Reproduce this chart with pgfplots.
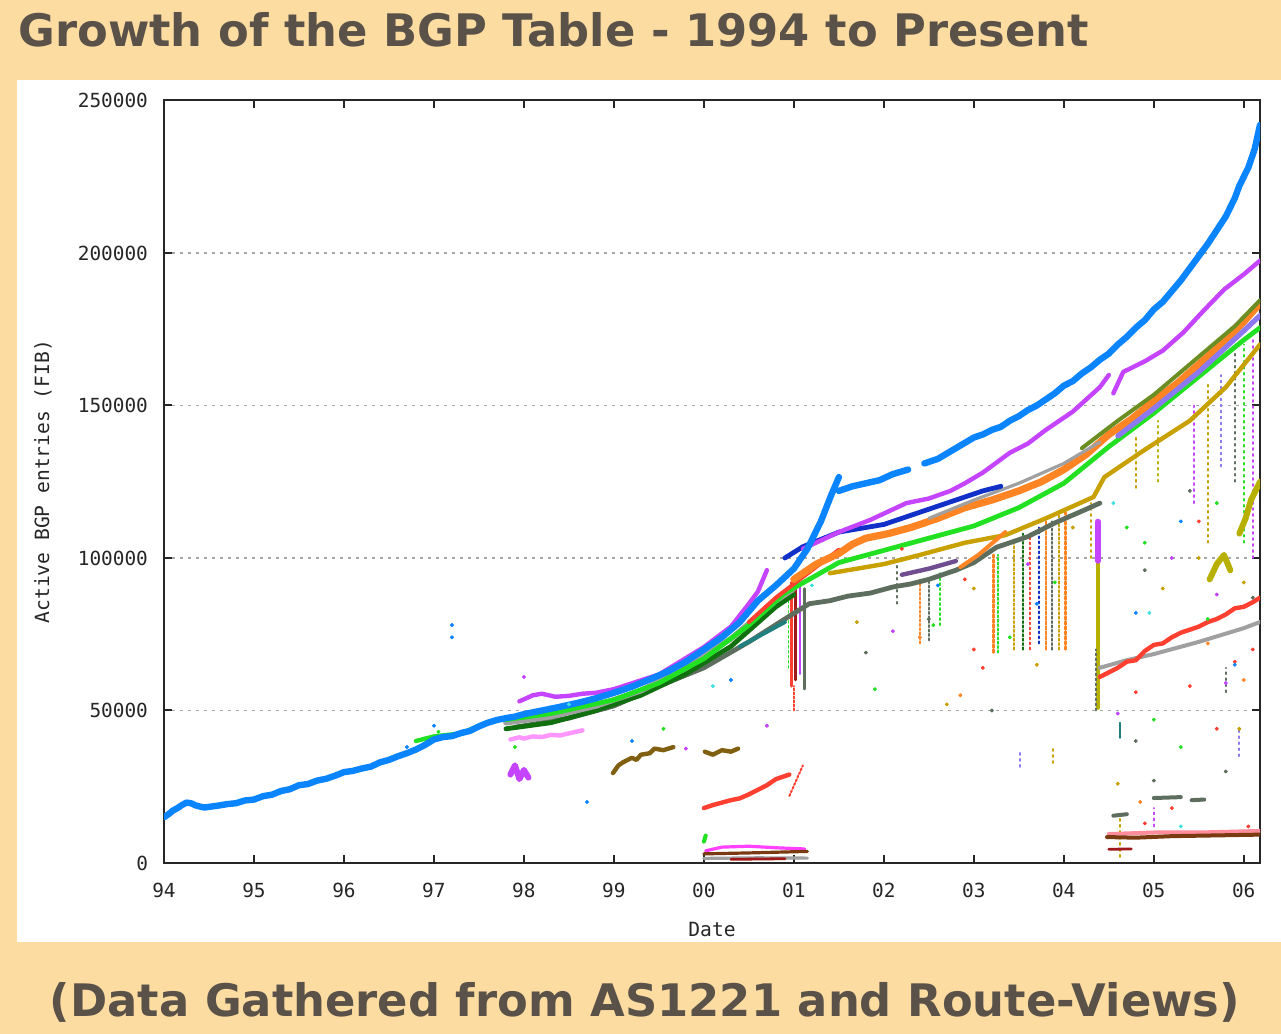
\documentclass[border=0pt]{standalone}
\usepackage{pgfplots}
\pgfplotsset{compat=1.18}
\usepackage{fontspec}
\setmainfont{DejaVu Sans}
\newfontfamily\gp{DejaVu Sans Mono}
\definecolor{peach}{HTML}{FDDCA2}
\definecolor{titlec}{HTML}{5A5248}
\definecolor{cblue}{HTML}{0A84FF}
\definecolor{cviolet}{HTML}{C444FF}
\definecolor{corange}{HTML}{FF8424}
\definecolor{cgreen}{HTML}{22E022}
\definecolor{cdkgreen}{HTML}{107010}
\definecolor{cgray}{HTML}{A0A0A0}
\definecolor{cdkgray}{HTML}{5E6E5E}
\definecolor{cgold}{HTML}{C8A000}
\definecolor{colive}{HTML}{B8B000}
\definecolor{cdkblue}{HTML}{1030C8}
\definecolor{cpurple}{HTML}{704C90}
\definecolor{cred}{HTML}{FF4030}
\definecolor{cdkred}{HTML}{A01818}
\definecolor{cbrown}{HTML}{7A3A12}
\definecolor{cochre}{HTML}{806010}
\definecolor{cpink}{HTML}{FF96FF}
\definecolor{cmpurple}{HTML}{8C78F0}
\definecolor{cteal}{HTML}{208080}
\definecolor{colgreen}{HTML}{6B8E23}
\definecolor{ccyan}{HTML}{40E0E0}
\definecolor{crose}{HTML}{FF8C9A}
\definecolor{cmag}{HTML}{FF40FF}
\begin{document}
\begin{tikzpicture}
\useasboundingbox (0,0) rectangle (640.5pt,517pt);
\fill[peach] (0,0) rectangle (640.5pt,517pt);
\fill[white] (8.5pt,46pt) rectangle (640.5pt,477pt);
\begin{axis}[
  at={(82pt,85.5pt)}, anchor=south west,
  scale only axis, width=548pt, height=381.25pt,
  xmin=1994, xmax=2006.18, ymin=0, ymax=250000,
  axis line style={line width=1pt, black!85},
  xtick={1994,...,2006},
  xticklabels={94,95,96,97,98,99,00,01,02,03,04,05,06},
  ytick={0,50000,100000,150000,200000,250000},
  yticklabels={0,50000,100000,150000,200000,250000},
  scaled y ticks=false,
  tick align=inside, major tick length=4pt,
  tick style={line width=1pt, black!85},
  ymajorgrids,
  grid style={gray!70, line width=0.6pt, dash pattern=on 1.5pt off 2.5pt},
  tick label style={font=\gp\fontsize{9.7}{11}\selectfont, text=black!85},
  /pgf/number format/assume math mode=true,
  yticklabel style={xshift=-4.5pt},
  xticklabel style={yshift=-6.5pt},
  every axis y label/.style={at={(rel axis cs:0,0.5)}, xshift=-60.5pt, rotate=90, anchor=center, font=\gp\fontsize{9.8}{11}\selectfont, text=black!85},
  every axis x label/.style={at={(rel axis cs:0.5,0)}, yshift=-33pt, anchor=center, font=\gp\fontsize{9.8}{11}\selectfont, text=black!85},
  ylabel={Active BGP entries (FIB)},
  xlabel={Date},
  no markers,
  every axis plot/.append style={line join=round, line cap=round},
]
% ---------- vertical noise columns ----------
\addplot[cred, line width=1.6pt] coordinates {(2000.97,58000)(2000.97,92000)};
\addplot[cdkred, line width=1.4pt] coordinates {(2001.02,60000)(2001.02,93000)};
\addplot[cviolet, line width=1.2pt] coordinates {(2001.07,62000)(2001.07,92000)};
\addplot[cdkgray, line width=1.2pt] coordinates {(2001.12,57000)(2001.12,90000)};
\addplot[cgreen, line width=0.9pt, dash pattern=on 1pt off 1.5pt] coordinates {(2000.94,64000)(2000.94,88000)};
\addplot[cred, line width=1pt, dash pattern=on 1pt off 1pt] coordinates {(2001.0,50000)(2001.0,58000)};
\addplot[corange, line width=1.1pt, dash pattern=on 1pt off 1.2pt] coordinates {(2002.40,72000)(2002.40,93000)};
\addplot[cdkgray, line width=1.1pt, dash pattern=on 1pt off 1.2pt] coordinates {(2002.50,73000)(2002.50,93000)};
\addplot[cgreen, line width=1pt, dash pattern=on 1pt off 1.5pt] coordinates {(2002.62,78000)(2002.62,95000)};
\addplot[corange, line width=1.4pt, dash pattern=on 1.5pt off 1pt] coordinates {(2003.22,69000)(2003.22,101000)};
\addplot[cgreen, line width=1.1pt, dash pattern=on 1pt off 1.2pt] coordinates {(2003.27,69000)(2003.27,101000)};
\addplot[cgold, line width=1.1pt, dash pattern=on 1pt off 1.2pt] coordinates {(2003.45,70000)(2003.45,105000)};
\addplot[cdkgreen, line width=1.1pt, dash pattern=on 1pt off 1.2pt] coordinates {(2003.55,70000)(2003.55,108000)};
\addplot[cred, line width=1pt, dash pattern=on 1pt off 1.5pt] coordinates {(2003.62,70000)(2003.62,108000)};
\addplot[cdkblue, line width=1pt, dash pattern=on 1pt off 1.5pt] coordinates {(2003.72,72000)(2003.72,110000)};
\addplot[corange, line width=1.3pt, dash pattern=on 1.5pt off 1pt] coordinates {(2003.80,70000)(2003.80,112000)};
\addplot[cdkgray, line width=1.1pt, dash pattern=on 1pt off 1.2pt] coordinates {(2003.87,70000)(2003.87,112000)};
\addplot[cgold, line width=1.1pt, dash pattern=on 1pt off 1.2pt] coordinates {(2003.95,70000)(2003.95,115000)};
\addplot[corange, line width=1.2pt, dash pattern=on 1.5pt off 1pt] coordinates {(2004.02,70000)(2004.02,115000)};
\addplot[cdkgray, line width=0.9pt, dash pattern=on 1pt off 2pt] coordinates {(2002.15,85000)(2002.15,100000)};
\addplot[cgold, line width=0.9pt, dash pattern=on 1pt off 2pt] coordinates {(2004.30,100000)(2004.30,118000)};
\addplot[cviolet, line width=0.9pt, dash pattern=on 1pt off 2pt] coordinates {(2005.45,118000)(2005.45,150000)};
\addplot[cgold, line width=0.9pt, dash pattern=on 1pt off 2pt] coordinates {(2005.60,105000)(2005.60,158000)};
\addplot[cmpurple, line width=0.9pt, dash pattern=on 1pt off 2pt] coordinates {(2005.75,130000)(2005.75,160000)};
\addplot[cdkgray, line width=0.9pt, dash pattern=on 1pt off 2pt] coordinates {(2005.90,125000)(2005.90,168000)};
\addplot[cgreen, line width=0.9pt, dash pattern=on 1pt off 2pt] coordinates {(2006.00,105000)(2006.00,170000)};
\addplot[cviolet, line width=0.9pt, dash pattern=on 1pt off 2pt] coordinates {(2006.10,100000)(2006.10,172000)};
\addplot[cgold, line width=0.9pt, dash pattern=on 1pt off 2pt] coordinates {(2004.80,123000)(2004.80,140000)};
\addplot[colive, line width=0.9pt, dash pattern=on 1pt off 2pt] coordinates {(2005.05,125000)(2005.05,145000)};
\addplot[cmpurple, line width=0.9pt, dash pattern=on 1pt off 2pt] coordinates {(2003.51,31500)(2003.51,37000)};
\addplot[cgold, line width=0.9pt, dash pattern=on 1pt off 2pt] coordinates {(2003.88,32800)(2003.88,37700)};
\addplot[cteal, line width=0.9pt] coordinates {(2004.62,41000)(2004.62,46000)};
\addplot[cgold, line width=0.9pt, dash pattern=on 1pt off 2pt] coordinates {(2004.62,2000)(2004.62,15000)};
\addplot[cviolet, line width=0.9pt, dash pattern=on 1pt off 2pt] coordinates {(2005.0,12000)(2005.0,18000)};
\addplot[cmpurple, line width=0.9pt, dash pattern=on 1pt off 2pt] coordinates {(2005.95,35000)(2005.95,44000)};
\addplot[cdkgray, line width=0.9pt, dash pattern=on 1pt off 2pt] coordinates {(2005.8,56000)(2005.8,64000)};
% ---------- spike at 2004.4 ----------
\addplot[colive, line width=2.4pt] coordinates {(2004.38,51000)(2004.38,104000)};
\addplot[cdkgray, line width=1pt, dash pattern=on 1pt off 1.5pt] coordinates {(2004.36,50000)(2004.36,70000)};
\addplot[cviolet, line width=2.6pt] coordinates {(2004.38,99000)(2004.38,112000)};
% ---------- lower early bits ----------
\addplot[cpink, line width=2.2pt] coordinates {(1997.85,40500)(1997.95,41200)(1998.0,40800)(1998.1,41500)(1998.2,41300)(1998.3,42000)(1998.4,41800)(1998.5,42500)(1998.65,43500)};
\addplot[cviolet, line width=3pt] coordinates {(1997.85,29000)(1997.9,32000)(1997.95,27500)(1998.0,30500)(1998.05,28000)};
\addplot[cochre, line width=2.2pt] coordinates {(1998.99,29500)(1999.05,32000)(1999.1,33000)(1999.2,34500)(1999.25,33800)(1999.3,35500)(1999.4,36000)(1999.45,37500)(1999.55,37000)(1999.66,38000)};
\addplot[cochre, line width=2.2pt] coordinates {(2000.01,36500)(2000.1,35500)(2000.2,37000)(2000.3,36500)(2000.38,37500)};
\addplot[cred, line width=2.2pt] coordinates {(2000.0,18000)(2000.1,19000)(2000.2,19800)(2000.3,20600)(2000.4,21200)(2000.5,22500)(2000.6,24000)(2000.7,25500)(2000.8,27500)(2000.95,29000)};
\addplot[cred, line width=1pt, dash pattern=on 1pt off 1pt] coordinates {(2000.95,22000)(2001.1,32000)};
% ---------- bottom 2000-2001 ----------
\addplot[cmag, line width=1.6pt] coordinates {(2000.02,4000)(2000.2,5200)(2000.5,5500)(2000.8,5000)(2001.12,4600)};
\addplot[cbrown, line width=1.6pt] coordinates {(2000.0,3000)(2000.5,3300)(2001.15,3800)};
\addplot[cgray, line width=1.6pt] coordinates {(2000.0,1500)(2000.6,1700)(2001.15,1600)};
\addplot[cdkred, line width=1.4pt] coordinates {(2000.3,1200)(2000.9,1400)};
\addplot[cgreen, line width=2pt] coordinates {(2000.0,7000)(2000.02,9000)};
% ---------- bottom 2004.5-2006 ----------
\addplot[crose, line width=2pt] coordinates {(2004.5,9500)(2005.0,10000)(2005.5,10000)(2006.18,10500)};
\addplot[cbrown, line width=2pt] coordinates {(2004.48,8500)(2004.8,8300)(2005.2,8800)(2005.6,9000)(2006.18,9300)};
\addplot[cdkred, line width=1.4pt] coordinates {(2004.5,4500)(2004.75,4600)};
\addplot[cdkgray, line width=2pt] coordinates {(2004.55,15500)(2004.7,16000)};
\addplot[cdkgray, line width=2pt] coordinates {(2005.0,21300)(2005.3,21600)};
\addplot[cdkgray, line width=2pt] coordinates {(2005.42,20600)(2005.56,20800)};
% ---------- after-drop lines ----------
\addplot[cgray, line width=2pt] coordinates {(2004.4,64000)(2004.7,66500)(2005.0,68500)(2005.5,72500)(2006.0,77000)(2006.18,79000)};
\addplot[cred, line width=2.2pt] coordinates {(2004.4,61000)(2004.5,62500)(2004.6,64000)(2004.7,66000)(2004.8,66500)(2004.9,69500)(2005.0,71500)(2005.1,72000)(2005.2,74000)(2005.3,75500)(2005.4,76500)(2005.5,77500)(2005.6,79000)(2005.7,80000)(2005.8,81500)(2005.9,83500)(2006.0,84000)(2006.1,85500)(2006.18,87000)};
\addplot[colive, line width=3pt] coordinates {(2005.62,93000)(2005.7,98000)(2005.78,101000)(2005.85,96000)};
\addplot[colive, line width=3pt] coordinates {(2005.95,108000)(2006.02,113000)(2006.08,119000)(2006.18,125000)};
% ---------- lower bundle lines ----------
\addplot[cdkgray, line width=2.4pt] coordinates {(1997.9,44500)(1998.5,47500)(1999.0,51500)(1999.5,58000)(2000.0,64000)(2000.5,72500)(2000.9,80000)(2001.17,85000)(2001.4,86000)(2001.6,87500)(2001.85,88500)(2002.1,90500)(2002.3,91500)(2002.5,93000)(2002.8,96000)(2003.0,98500)(2003.25,103500)(2003.6,107000)(2003.9,111500)(2004.25,116000)(2004.4,118000)};
\addplot[cpurple, line width=2.2pt] coordinates {(2002.2,94500)(2002.5,96500)(2002.8,99000)};
\addplot[cteal, line width=2pt] coordinates {(2000.4,71000)(2000.65,75000)(2000.9,79000)};
\addplot[cgold, line width=2.2pt] coordinates {(2001.4,95000)(2001.7,96500)(2002.0,98000)(2002.4,101000)(2002.9,105000)(2003.35,107500)(2003.8,113000)(2004.33,120000)(2004.45,126500)(2004.9,135500)(2005.4,145000)(2005.8,156000)(2006.18,170000)};
\addplot[corange, line width=2pt] coordinates {(2002.85,97000)(2003.05,101000)(2003.35,108500)};
% ---------- main bundle ----------
\addplot[cdkgreen, line width=2.4pt] coordinates {(1997.8,44000)(1998.3,46000)(1998.8,50000)(1999.3,55000)(1999.8,62000)(2000.3,71000)(2000.8,84000)(2001.0,88000)};
\addplot[cgray, line width=2.8pt] coordinates {(1997.8,46000)(1998.3,48000)(1998.8,51500)(1999.3,56500)(1999.8,64000)(2000.3,73500)(2000.8,86000)(2001.0,90000)};
\addplot[cgreen, line width=2.2pt] coordinates {(1996.8,40000)(1997.0,41500)(1997.3,42500)(1997.5,45000)};
\addplot[cgreen, line width=2.4pt] coordinates {(1997.8,47000)(1998.3,49000)(1999.0,53500)(1999.5,59000)(2000.0,67000)(2000.5,78000)(2000.9,88500)(2001.05,91000)(2001.5,98500)(2002.0,102500)(2002.5,106500)(2003.0,110500)(2003.5,116500)(2004.0,124500)(2004.5,136500)(2005.0,147500)(2005.5,159500)(2006.0,171500)(2006.18,175500)};
\addplot[cred, line width=2pt] coordinates {(2000.5,79000)(2000.8,87000)(2001.2,96000)(2001.5,102700)};
\addplot[corange, line width=3.6pt] coordinates {(2001.0,93000)(2001.25,98000)(2001.5,101500)(2001.65,104500)(2001.8,106500)(2002.05,108000)(2002.3,110000)(2002.6,113000)(2002.9,116500)(2003.2,119000)(2003.5,122000)(2003.75,125000)(2004.0,129000)(2004.25,134000)(2004.5,140500)(2004.75,145500)(2005.0,151500)(2005.25,157000)(2005.5,163500)(2005.75,170000)(2006.0,177500)(2006.18,183500)};
\addplot[cgray, line width=1.6pt] coordinates {(2002.5,113000)(2003.0,119000)(2003.5,124500)(2004.0,131000)(2004.4,138000)};
\addplot[cmpurple, line width=2.6pt] coordinates {(2004.6,140000)(2005.0,149000)(2005.5,161000)(2006.0,174500)(2006.18,179500)};
\addplot[colgreen, line width=2pt] coordinates {(2004.2,136000)(2004.6,145000)(2005.0,153500)(2005.5,166000)(2005.9,176000)(2006.18,184500)};
\addplot[cdkblue, line width=2.4pt] coordinates {(2000.9,100000)(2001.1,103700)(2001.5,108500)(2002.0,111000)(2002.5,116000)(2002.8,119000)(2003.1,122000)(2003.3,123500)};
% ---------- violet ----------
\addplot[cviolet, line width=2.2pt] coordinates {(1997.95,53000)(1998.1,55000)(1998.2,55500)(1998.35,54500)(1998.5,54800)(1998.65,55500)(1998.8,55800)(1999.0,57000)(1999.5,61800)(2000.0,70800)(2000.3,77500)(2000.5,85000)(2000.6,89000)(2000.7,96000)};
\addplot[cviolet, line width=2.2pt] coordinates {(2001.1,103000)(2001.5,108500)(2001.85,112500)(2002.25,118000)(2002.5,119500)(2002.74,122000)(2002.9,124500)(2003.1,128000)(2003.4,134500)(2003.6,137500)(2003.8,142000)(2004.1,148000)(2004.4,156000)(2004.5,160000)};
\addplot[cviolet, line width=2.2pt] coordinates {(2004.55,154000)(2004.66,161000)(2004.9,164500)(2005.1,168000)(2005.33,174000)(2005.55,181000)(2005.78,188000)(2006.0,193000)(2006.18,197500)};
% ---------- main blue ----------
\addplot[cblue, line width=3.2pt] coordinates {(1994.00,15000)(1994.05,16000)(1994.10,17200)(1994.15,18000)(1994.20,19000)(1994.25,19800)(1994.30,19600)(1994.35,18900)(1994.40,18500)(1994.45,18200)(1994.50,18400)(1994.60,18800)(1994.70,19300)(1994.80,19600)(1994.90,20500)(1995.00,20800)(1995.10,21900)(1995.20,22400)(1995.30,23600)(1995.40,24200)(1995.50,25500)(1995.60,25900)(1995.70,27000)(1995.80,27600)(1995.90,28600)(1996.00,29800)(1996.10,30200)(1996.20,31000)(1996.30,31600)(1996.40,33000)(1996.50,33800)(1996.60,35000)(1996.70,36000)(1996.80,37200)(1996.90,38700)(1997.00,40500)(1997.10,41300)(1997.20,41600)(1997.30,42600)(1997.40,43300)(1997.50,44800)(1997.60,46000)(1997.70,46900)(1997.80,47500)(1997.90,48000)(1998.00,48800)(1998.20,50000)(1998.40,51200)(1998.60,52500)(1998.80,54000)(1999.00,55800)(1999.20,57800)(1999.40,60200)(1999.60,62800)(1999.80,66000)(2000.00,70000)(2000.20,74000)(2000.40,79000)(2000.60,86000)(2000.80,91000)(2001.00,96500)(2001.15,103000)(2001.30,112000)(2001.42,121000)(2001.50,126500)};
\addplot[cblue, line width=3.2pt] coordinates {(2001.50,122000)(2001.65,123500)(2001.80,124500)(2001.95,125500)(2002.10,127500)(2002.27,129000)};
\addplot[cblue, line width=3.2pt] coordinates {(2002.45,131000)(2002.60,132500)(2002.80,136000)(2003.00,139500)(2003.10,140500)(2003.20,142000)(2003.30,143000)(2003.40,145000)(2003.50,146500)(2003.60,148500)(2003.70,150000)(2003.80,152000)(2003.90,154000)(2004.00,156500)(2004.10,158000)(2004.20,160500)(2004.30,162500)(2004.40,165000)(2004.50,167000)(2004.60,170000)(2004.70,172500)(2004.80,175500)(2004.90,178000)(2005.00,181500)(2005.10,184000)(2005.20,187500)(2005.30,191000)(2005.40,195000)(2005.50,199000)(2005.60,203000)(2005.70,207500)(2005.80,212000)(2005.90,218000)(2005.95,222000)(2006.05,228000)(2006.12,234000)(2006.18,242000)};
% ---------- scattered dots ----------
\addplot[only marks, mark=square*, mark size=0.8pt, cgreen] coordinates {(1997.05,43000)(1997.9,38000)(1999.55,44000)(2002.55,78000)(2003.4,74000)(2004.7,110000)(2005.0,47000)(2005.3,38000)(2001.9,57000)(2003.9,92000)(2005.6,80000)(2004.9,105000)(2005.7,118000)};
\addplot[only marks, mark=square*, mark size=0.8pt, cred] coordinates {(2002.2,103000)(2003.0,70000)(2004.8,56000)(2005.4,58000)(2005.9,66000)(2006.1,70000)(2003.1,64000)(2002.9,93000)(2005.7,44000)(2005.2,18000)(2004.9,13000)(2006.05,12000)(2005.5,112000)};
\addplot[only marks, mark=square*, mark size=0.8pt, cblue] coordinates {(1997.0,45000)(1999.2,40000)(2000.3,60000)(2002.6,91000)(2004.8,82000)(2005.9,65000)(2005.3,112000)(1998.7,20000)(2003.7,85000)(1996.7,38000)(1997.2,78000)(1997.2,74000)};
\addplot[only marks, mark=square*, mark size=0.8pt, cviolet] coordinates {(1998.0,61000)(1999.8,37500)(2000.7,45000)(2004.6,49000)(2005.8,59000)(2005.7,88000)(2002.1,76000)(2003.6,98000)(2005.2,100000)};
\addplot[only marks, mark=square*, mark size=0.8pt, cdkgray] coordinates {(2001.8,69000)(2002.5,80000)(2004.8,40000)(2005.0,27000)(2005.8,30000)(2006.1,87000)(2003.2,50000)(2004.9,96000)(2005.4,122000)};
\addplot[only marks, mark=square*, mark size=0.8pt, cgold] coordinates {(2003.7,65000)(2005.1,90000)(2005.5,100000)(2005.95,44000)(2006.0,92000)(2003.0,90000)(2004.6,26000)(2004.1,110000)(2002.7,52000)(2001.7,79000)};
\addplot[only marks, mark=square*, mark size=0.8pt, ccyan] coordinates {(2000.1,58000)(2001.2,91000)(2004.95,82000)(2005.3,12000)(1998.5,52000)(2004.55,118000)};
\addplot[only marks, mark=square*, mark size=0.8pt, corange] coordinates {(2002.85,55000)(2002.4,74000)(2005.6,72000)(2004.85,20000)(2006.0,60000)};
\end{axis}
\node[anchor=base west, inner sep=0, text=titlec, font=\bfseries\fontsize{22.4}{26}\selectfont] at (9pt,493.5pt) {Growth of the BGP Table - 1994 to Present};
\node[anchor=base, inner sep=0, text=titlec, font=\bfseries\fontsize{22.4}{26}\selectfont] at (322.5pt,8.5pt) {(Data Gathered from AS1221 and Route-Views)};
\end{tikzpicture}
\end{document}
